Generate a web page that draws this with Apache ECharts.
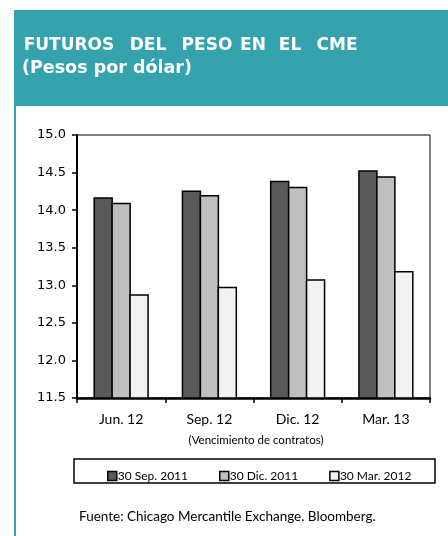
<!DOCTYPE html>
<html>
<head>
<meta charset="utf-8">
<script src="https://cdn.jsdelivr.net/npm/echarts@6/dist/echarts.min.js"></script>
<style>
  html, body { margin: 0; padding: 0; background: #fff; }
  #chart { width: 448px; height: 536px; }
</style>
</head>
<body>
<div id="chart"></div>
<script>
// contract months
var categories = ['Jun. 12', 'Sep. 12', 'Dic. 12', 'Mar. 13']
var seriesNames = ['30 Sep. 2011', '30 Dic. 2011', '30 Mar. 2012']
// pesos per dollar
var sep2011 = [14.17, 14.26, 14.39, 14.53]
var dic2011 = [14.10, 14.20, 14.31, 14.45]
var mar2012 = [12.88, 12.98, 13.08, 13.19]

var teal = '#35a3ae'
var colors = ['#595959', '#bfbfbf', '#f2f2f2']
var dataSets = [sep2011, dic2011, mar2012]

// title words placed one by one (centres), the original uses wide tracking
var titleWords = [['FUTUROS', 69], ['DEL', 148], ['PESO', 207], ['EN', 253], ['EL', 290], ['CME', 337]]

var chart = echarts.init(document.getElementById('chart'))

var series = dataSets.map(function (d, i) {
  return {
    name: seriesNames[i],
    type: 'bar',
    data: d,
    barWidth: 19.5,
    barGap: '-8%',
    itemStyle: {
      color: colors[i],
      borderColor: '#000',
      borderWidth: 1.5
    }
  }
})

var titleFont = 'bold 17px "DejaVu Sans"'
var graphics = [
  { type: 'rect', shape: { x: 14, y: 10, width: 434, height: 96 }, style: { fill: teal }, silent: true },
  { type: 'rect', shape: { x: 14, y: 10, width: 2, height: 526 }, style: { fill: teal }, silent: true }
]
titleWords.forEach(function (w) {
  graphics.push({ type: 'text', x: w[1], y: 37, style: { text: w[0], fill: '#fff', font: titleFont, align: 'center' } })
})
graphics.push(
  {
    type: 'text', left: 22, top: 59,
    style: { text: '(Pesos por dólar)', fill: '#fff', font: 'bold 17.5px "DejaVu Sans"' }
  },
  {
    type: 'text', x: 256, y: 434,
    style: { text: '(Vencimiento de contratos)', fill: '#000', font: '11.5px Lato', align: 'center' }
  },
  { type: 'rect', shape: { x: 74, y: 459, width: 361, height: 24 }, style: { fill: 'none', stroke: '#000', lineWidth: 1.5 }, silent: true },
  {
    type: 'text', left: 79, top: 510,
    style: { text: 'Fuente: Chicago Mercantile Exchange. Bloomberg.', fill: '#000', font: '13.5px Lato' }
  }
)

var option = {
  animation: false,
  backgroundColor: '#fff',
  textStyle: { fontFamily: 'Lato' },
  grid: {
    left: 77, top: 135, right: 18, bottom: 138,
    show: true, borderColor: '#000', borderWidth: 1
  },
  legend: {
    data: seriesNames,
    top: 465,
    left: 102,
    itemWidth: 9,
    itemHeight: 9,
    itemGap: 31,
    icon: 'rect',
    itemStyle: { borderColor: '#000', borderWidth: 1.5 },
    textStyle: { fontFamily: 'Lato', fontSize: 12, color: '#000', padding: [0, 0, 0, -4] }
  },
  xAxis: {
    type: 'category',
    data: categories,
    axisLine: { lineStyle: { color: '#000', width: 2.5 } },
    axisTick: { show: true, inside: false, length: 5, alignWithLabel: false, lineStyle: { color: '#000', width: 1.5 } },
    axisLabel: { color: '#000', fontFamily: 'Lato', fontSize: 14, margin: 14 }
  },
  yAxis: {
    type: 'value',
    min: 11.5,
    max: 15,
    interval: 0.5,
    splitLine: { show: false },
    axisLine: { show: true, lineStyle: { color: '#000', width: 2 } },
    axisTick: { show: true, inside: false, length: 5, lineStyle: { color: '#000', width: 1.5 } },
    axisLabel: {
      color: '#000', fontFamily: 'DejaVu Sans', fontSize: 13, margin: 11,
      formatter: function (v) { return v.toFixed(1) }
    }
  },
  series: series,
  graphic: graphics
}

chart.setOption(option)
</script>
</body>
</html>
